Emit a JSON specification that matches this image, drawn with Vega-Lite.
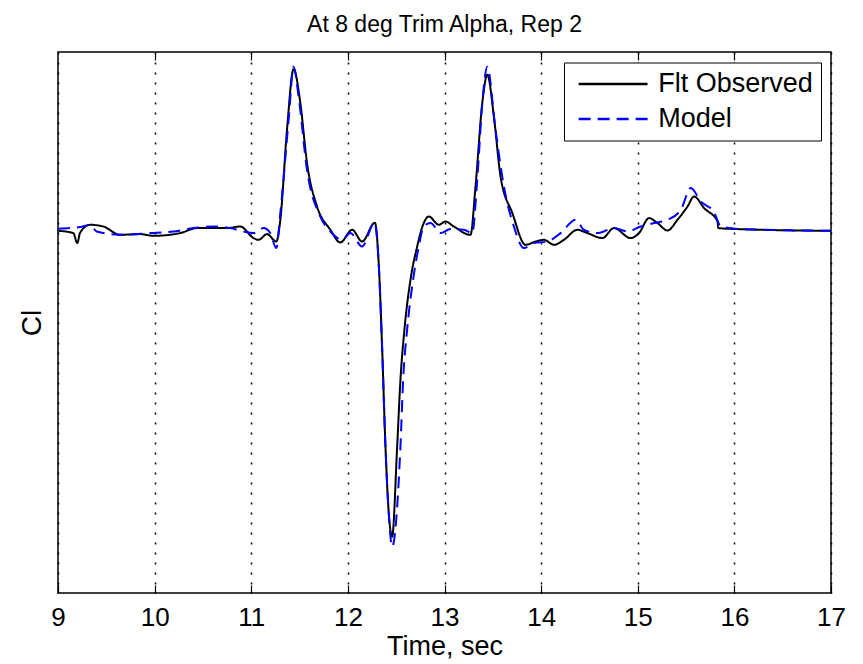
{
  "$schema": "https://vega.github.io/schema/vega-lite/v6.json",
  "width": 773,
  "height": 541,
  "autosize": {"type": "none"},
  "padding": {"left": 58, "top": 52, "right": 32, "bottom": 71},
  "background": "white",
  "title": {"text": "At 8 deg Trim Alpha, Rep 2", "font": "Liberation Sans", "fontSize": 23, "fontWeight": "normal", "color": "#000000", "anchor": "middle", "frame": "group", "baseline": "alphabetic", "offset": -4},
  "config": {
    "view": {"stroke": "#000000", "strokeWidth": 1.5},
    "axis": {"labelFont": "Liberation Sans", "titleFont": "Liberation Sans", "labelColor": "#000000", "titleColor": "#000000", "titleFontWeight": "normal"}
  },
  "data": {"values": [
    {"t": 9.003, "cl": 0.0, "series": "Flt Observed"},
    {"t": 9.159, "cl": -0.023, "series": "Flt Observed"},
    {"t": 9.2, "cl": -0.123, "series": "Flt Observed"},
    {"t": 9.228, "cl": -0.02, "series": "Flt Observed"},
    {"t": 9.332, "cl": 0.06, "series": "Flt Observed"},
    {"t": 9.469, "cl": 0.043, "series": "Flt Observed"},
    {"t": 9.642, "cl": -0.04, "series": "Flt Observed"},
    {"t": 9.85, "cl": -0.033, "series": "Flt Observed"},
    {"t": 9.988, "cl": -0.05, "series": "Flt Observed"},
    {"t": 10.264, "cl": -0.023, "series": "Flt Observed"},
    {"t": 10.437, "cl": 0.027, "series": "Flt Observed"},
    {"t": 10.609, "cl": 0.027, "series": "Flt Observed"},
    {"t": 10.748, "cl": 0.027, "series": "Flt Observed"},
    {"t": 10.886, "cl": 0.043, "series": "Flt Observed"},
    {"t": 11.024, "cl": -0.073, "series": "Flt Observed"},
    {"t": 11.076, "cl": -0.09, "series": "Flt Observed"},
    {"t": 11.163, "cl": -0.033, "series": "Flt Observed"},
    {"t": 11.259, "cl": -0.107, "series": "Flt Observed"},
    {"t": 11.301, "cl": 0.11, "series": "Flt Observed"},
    {"t": 11.37, "cl": 1.01, "series": "Flt Observed"},
    {"t": 11.438, "cl": 1.617, "series": "Flt Observed"},
    {"t": 11.508, "cl": 1.277, "series": "Flt Observed"},
    {"t": 11.577, "cl": 0.677, "series": "Flt Observed"},
    {"t": 11.681, "cl": 0.243, "series": "Flt Observed"},
    {"t": 11.819, "cl": 0.01, "series": "Flt Observed"},
    {"t": 11.922, "cl": -0.117, "series": "Flt Observed"},
    {"t": 12.044, "cl": 0.01, "series": "Flt Observed"},
    {"t": 12.147, "cl": -0.107, "series": "Flt Observed"},
    {"t": 12.28, "cl": 0.08, "series": "Flt Observed"},
    {"t": 12.319, "cl": -0.323, "series": "Flt Observed"},
    {"t": 12.354, "cl": -1.157, "series": "Flt Observed"},
    {"t": 12.389, "cl": -2.157, "series": "Flt Observed"},
    {"t": 12.423, "cl": -2.82, "series": "Flt Observed"},
    {"t": 12.458, "cl": -3.057, "series": "Flt Observed"},
    {"t": 12.51, "cl": -2.157, "series": "Flt Observed"},
    {"t": 12.544, "cl": -1.49, "series": "Flt Observed"},
    {"t": 12.585, "cl": -0.99, "series": "Flt Observed"},
    {"t": 12.648, "cl": -0.49, "series": "Flt Observed"},
    {"t": 12.717, "cl": -0.157, "series": "Flt Observed"},
    {"t": 12.785, "cl": 0.077, "series": "Flt Observed"},
    {"t": 12.837, "cl": 0.143, "series": "Flt Observed"},
    {"t": 12.941, "cl": 0.06, "series": "Flt Observed"},
    {"t": 13.01, "cl": 0.093, "series": "Flt Observed"},
    {"t": 13.096, "cl": 0.043, "series": "Flt Observed"},
    {"t": 13.269, "cl": -0.04, "series": "Flt Observed"},
    {"t": 13.321, "cl": 0.443, "series": "Flt Observed"},
    {"t": 13.391, "cl": 1.277, "series": "Flt Observed"},
    {"t": 13.443, "cl": 1.56, "series": "Flt Observed"},
    {"t": 13.511, "cl": 1.143, "series": "Flt Observed"},
    {"t": 13.58, "cl": 0.543, "series": "Flt Observed"},
    {"t": 13.702, "cl": 0.177, "series": "Flt Observed"},
    {"t": 13.839, "cl": -0.14, "series": "Flt Observed"},
    {"t": 13.943, "cl": -0.107, "series": "Flt Observed"},
    {"t": 14.029, "cl": -0.09, "series": "Flt Observed"},
    {"t": 14.133, "cl": -0.14, "series": "Flt Observed"},
    {"t": 14.236, "cl": -0.09, "series": "Flt Observed"},
    {"t": 14.375, "cl": 0.01, "series": "Flt Observed"},
    {"t": 14.479, "cl": -0.023, "series": "Flt Observed"},
    {"t": 14.634, "cl": -0.073, "series": "Flt Observed"},
    {"t": 14.754, "cl": 0.027, "series": "Flt Observed"},
    {"t": 14.927, "cl": -0.073, "series": "Flt Observed"},
    {"t": 15.013, "cl": -0.023, "series": "Flt Observed"},
    {"t": 15.117, "cl": 0.127, "series": "Flt Observed"},
    {"t": 15.204, "cl": 0.077, "series": "Flt Observed"},
    {"t": 15.308, "cl": 0.003, "series": "Flt Observed"},
    {"t": 15.411, "cl": 0.11, "series": "Flt Observed"},
    {"t": 15.515, "cl": 0.243, "series": "Flt Observed"},
    {"t": 15.583, "cl": 0.343, "series": "Flt Observed"},
    {"t": 15.687, "cl": 0.227, "series": "Flt Observed"},
    {"t": 15.826, "cl": 0.093, "series": "Flt Observed"},
    {"t": 15.834, "cl": 0.027, "series": "Flt Observed"},
    {"t": 16.033, "cl": 0.017, "series": "Flt Observed"},
    {"t": 17.0, "cl": 0.0, "series": "Flt Observed"},
    {"t": 9.0, "cl": 0.02, "series": "Model"},
    {"t": 9.155, "cl": 0.03, "series": "Model"},
    {"t": 9.228, "cl": 0.037, "series": "Model"},
    {"t": 9.332, "cl": 0.06, "series": "Model"},
    {"t": 9.401, "cl": -0.007, "series": "Model"},
    {"t": 9.642, "cl": -0.04, "series": "Model"},
    {"t": 9.953, "cl": -0.023, "series": "Model"},
    {"t": 10.195, "cl": -0.007, "series": "Model"},
    {"t": 10.402, "cl": 0.027, "series": "Model"},
    {"t": 10.609, "cl": 0.043, "series": "Model"},
    {"t": 10.782, "cl": 0.027, "series": "Model"},
    {"t": 10.92, "cl": -0.007, "series": "Model"},
    {"t": 11.024, "cl": -0.023, "series": "Model"},
    {"t": 11.127, "cl": 0.027, "series": "Model"},
    {"t": 11.197, "cl": -0.023, "series": "Model"},
    {"t": 11.259, "cl": -0.173, "series": "Model"},
    {"t": 11.301, "cl": 0.177, "series": "Model"},
    {"t": 11.387, "cl": 1.11, "series": "Model"},
    {"t": 11.438, "cl": 1.64, "series": "Model"},
    {"t": 11.49, "cl": 1.343, "series": "Model"},
    {"t": 11.577, "cl": 0.61, "series": "Model"},
    {"t": 11.715, "cl": 0.143, "series": "Model"},
    {"t": 11.819, "cl": -0.007, "series": "Model"},
    {"t": 11.94, "cl": -0.09, "series": "Model"},
    {"t": 12.026, "cl": -0.023, "series": "Model"},
    {"t": 12.147, "cl": -0.157, "series": "Model"},
    {"t": 12.275, "cl": 0.08, "series": "Model"},
    {"t": 12.319, "cl": -0.323, "series": "Model"},
    {"t": 12.354, "cl": -1.157, "series": "Model"},
    {"t": 12.389, "cl": -2.157, "series": "Model"},
    {"t": 12.423, "cl": -2.82, "series": "Model"},
    {"t": 12.458, "cl": -3.157, "series": "Model"},
    {"t": 12.544, "cl": -2.157, "series": "Model"},
    {"t": 12.572, "cl": -1.49, "series": "Model"},
    {"t": 12.613, "cl": -0.99, "series": "Model"},
    {"t": 12.675, "cl": -0.49, "series": "Model"},
    {"t": 12.734, "cl": -0.157, "series": "Model"},
    {"t": 12.785, "cl": 0.043, "series": "Model"},
    {"t": 12.855, "cl": 0.077, "series": "Model"},
    {"t": 12.959, "cl": -0.023, "series": "Model"},
    {"t": 13.062, "cl": 0.017, "series": "Model"},
    {"t": 13.2, "cl": 0.01, "series": "Model"},
    {"t": 13.287, "cl": -0.023, "series": "Model"},
    {"t": 13.339, "cl": 0.51, "series": "Model"},
    {"t": 13.391, "cl": 1.277, "series": "Model"},
    {"t": 13.443, "cl": 1.64, "series": "Model"},
    {"t": 13.528, "cl": 1.01, "series": "Model"},
    {"t": 13.615, "cl": 0.443, "series": "Model"},
    {"t": 13.718, "cl": 0.043, "series": "Model"},
    {"t": 13.822, "cl": -0.173, "series": "Model"},
    {"t": 13.925, "cl": -0.123, "series": "Model"},
    {"t": 14.064, "cl": -0.107, "series": "Model"},
    {"t": 14.202, "cl": -0.023, "series": "Model"},
    {"t": 14.358, "cl": 0.11, "series": "Model"},
    {"t": 14.444, "cl": 0.01, "series": "Model"},
    {"t": 14.582, "cl": -0.023, "series": "Model"},
    {"t": 14.754, "cl": 0.027, "series": "Model"},
    {"t": 14.893, "cl": -0.007, "series": "Model"},
    {"t": 15.031, "cl": 0.043, "series": "Model"},
    {"t": 15.169, "cl": 0.077, "series": "Model"},
    {"t": 15.308, "cl": 0.11, "series": "Model"},
    {"t": 15.446, "cl": 0.21, "series": "Model"},
    {"t": 15.549, "cl": 0.427, "series": "Model"},
    {"t": 15.653, "cl": 0.293, "series": "Model"},
    {"t": 15.791, "cl": 0.183, "series": "Model"},
    {"t": 15.86, "cl": 0.043, "series": "Model"},
    {"t": 16.067, "cl": 0.017, "series": "Model"},
    {"t": 17.0, "cl": 0.0, "series": "Model"}
  ]},
  "layer": [
    {
      "mark": {"type": "line", "interpolate": "monotone", "strokeWidth": 2},
      "encoding": {
        "x": {"field": "t", "type": "quantitative", "scale": {"domain": [9, 17], "nice": false, "zero": false},
          "axis": {"orient": "bottom", "values": [9, 10, 11, 12, 13, 14, 15, 16, 17], "format": "d", "labelFlush": false, "title": "Time, sec", "titleFontSize": 27, "labelFontSize": 26, "labelPadding": 19, "titlePadding": 3, "tickSize": -8, "tickColor": "#000000", "tickWidth": 1.2, "domain": false,
            "grid": true, "gridColor": "#000000", "gridDash": [2, 8], "gridWidth": 1.5, "gridOpacity": 1}},
        "y": {"field": "cl", "type": "quantitative", "scale": {"domain": [-3.62, 1.787], "nice": false, "zero": false},
          "axis": {"title": "Cl", "titleFontSize": 28, "labels": false, "ticks": false, "grid": false, "domain": false, "titlePadding": 12}},
        "color": {"field": "series", "type": "nominal", "scale": {"domain": ["Flt Observed", "Model"], "range": ["#000000", "#0000ff"]},
          "legend": {"title": null, "orient": "none", "legendX": 506, "legendY": 10.5, "symbolType": "M-5,0H5", "symbolSize": 190, "symbolStrokeWidth": 2.5, "labelFont": "Liberation Sans", "labelFontSize": 27, "labelColor": "#000000", "labelOffset": 31.6, "rowPadding": 7, "padding": 8, "symbolOffset": 27.6, "strokeColor": "#000000", "fillColor": "#ffffff", "labelLimit": 400}},
        "strokeDash": {"field": "series", "type": "nominal", "scale": {"domain": ["Flt Observed", "Model"], "range": [[1, 0], [12, 7]]},
          "legend": {"title": null, "orient": "none", "legendX": 506, "legendY": 10.5, "symbolType": "M-5,0H5", "symbolSize": 190, "symbolStrokeWidth": 2.5, "labelFont": "Liberation Sans", "labelFontSize": 27, "labelColor": "#000000", "labelOffset": 31.6, "rowPadding": 7, "padding": 8, "symbolOffset": 27.6, "strokeColor": "#000000", "fillColor": "#ffffff", "labelLimit": 400}}
      }
    },
    {
      "mark": {"type": "point", "opacity": 0},
      "encoding": {
        "x": {"field": "t", "type": "quantitative", "scale": {"domain": [9, 17], "nice": false, "zero": false},
          "axis": {"orient": "top", "values": [10, 11, 12, 13, 14, 15, 16], "labels": false, "title": null, "tickSize": -8, "tickColor": "#000000", "tickWidth": 1.2, "domain": false, "grid": false}}
      }
    }
  ],
  "resolve": {"axis": {"x": "independent"}}
}
